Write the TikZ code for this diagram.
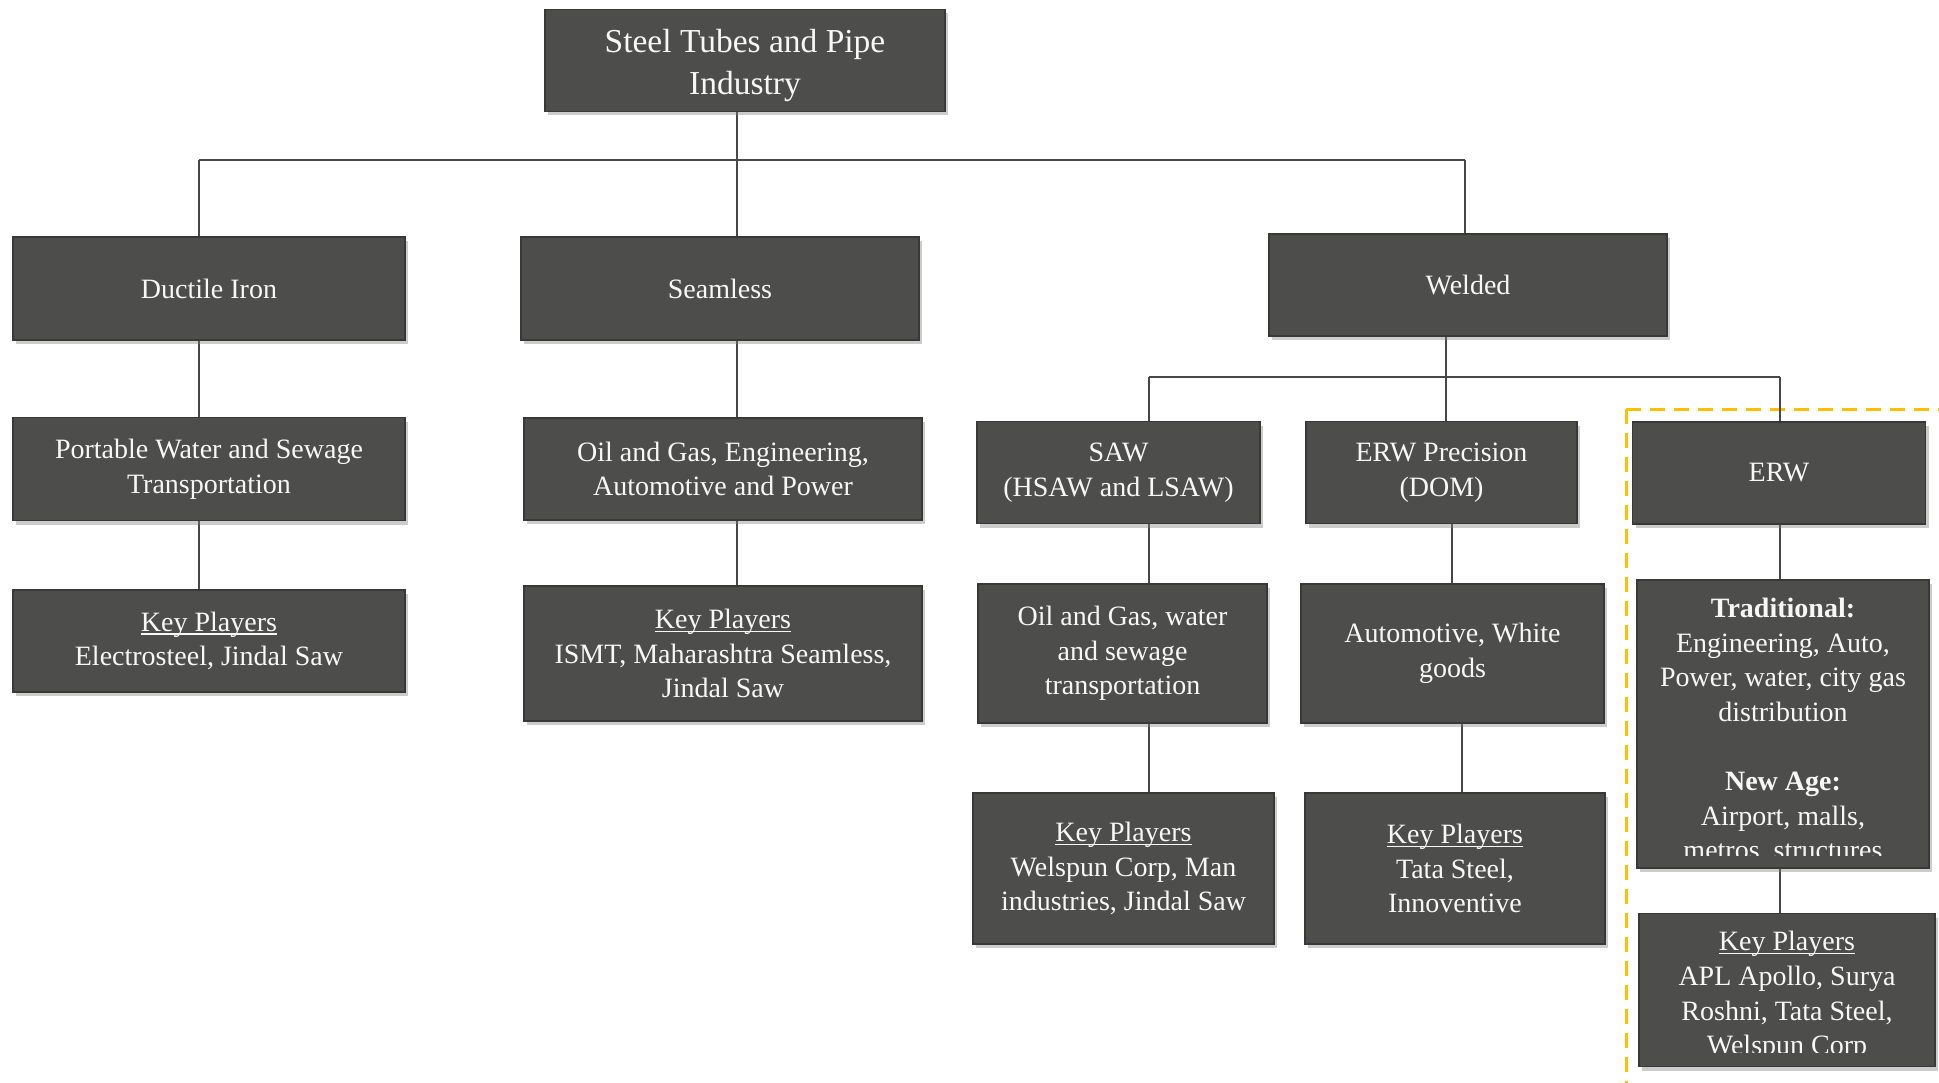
\documentclass[tikz,border=0pt]{standalone}
\usepackage{fontspec}
\setmainfont{Liberation Serif}
\usetikzlibrary{shadows}
\pgfdeclarelayer{bg}
\pgfsetlayers{bg,main}
\definecolor{boxfill}{HTML}{4D4D4B}
\definecolor{boxline}{HTML}{383838}
\definecolor{linec}{HTML}{474747}
\definecolor{orng}{HTML}{FFC000}
\definecolor{txtc}{HTML}{F7F7F7}
\newcommand{\fsn}{\fontsize{28}{34.6}\selectfont}
\newcommand{\fsr}{\fontsize{33.5}{42}\selectfont}
\newcommand{\myul}[1]{\setbox0\hbox{#1}\rlap{\rule[-3.5pt]{\wd0}{1.3pt}}\box0}
\begin{document}
\begin{tikzpicture}[x=1pt,y=-1pt,
  box/.style={draw=boxline, line width=1.6pt, fill=boxfill, text=txtc, align=center,
    inner sep=0pt, font=\fsn,
    drop shadow={shadow xshift=3pt, shadow yshift=-4pt, opacity=0.4}},
  boxtext/.style={text=txtc, align=center, inner sep=0pt, font=\fsn},
  conn/.style={draw=linec, line width=1.5pt},
  frame/.style={draw=orng, line width=3pt, dash pattern=on 15pt off 9pt}]
\useasboundingbox (0,0) rectangle (1939,1083);

% level 0
\node[box, minimum width=400pt, minimum height=102pt] (root) at (745,60.5) {};
\node[boxtext, font=\fsr] (roottext) at ([yshift=-5pt]root.center) {Steel Tubes and Pipe\\Industry};

% level 1
\node[box, minimum width=392pt, minimum height=103pt] (duct) at (209,288.5) {Ductile Iron};
\node[box, minimum width=398pt, minimum height=103pt] (seam) at (720,288.5) {Seamless};
\node[box, minimum width=398pt, minimum height=102pt] (weld) at (1468,285) {Welded};

% level 2
\node[box, minimum width=392pt, minimum height=103pt] (port) at (209,469) {Portable Water and Sewage\\Transportation};
\node[box, minimum width=398pt, minimum height=102pt] (oileng) at (723,469) {Oil and Gas, Engineering,\\Automotive and Power};
\node[box, minimum width=283pt, minimum height=102pt] (saw) at (1118.5,472.5) {SAW\\(HSAW and LSAW)};
\node[box, minimum width=271pt, minimum height=102pt] (erwp) at (1441.5,472.5) {ERW Precision\\(DOM)};
\node[box, minimum width=293pt, minimum height=102pt] (erw) at (1779,473) {ERW};

% level 3
\node[box, minimum width=392pt, minimum height=102pt] (kpd) at (209,641) {\myul{Key Players}\\Electrosteel, Jindal Saw};
\node[box, minimum width=398pt, minimum height=135pt] (kps) at (723,653.5) {\myul{Key Players}\\ISMT, Maharashtra Seamless,\\Jindal Saw};
\node[box, minimum width=289pt, minimum height=139pt] (oilw) at (1122.5,653.5) {Oil and Gas, water\\and sewage\\transportation};
\node[box, minimum width=303pt, minimum height=139pt] (auto) at (1452.5,653.5) {Automotive, White\\goods};
\node[box, minimum width=292pt, minimum height=288pt] (trad) at (1783,724) {};
\begin{scope}
  \clip (trad.north west) rectangle ([yshift=13pt]trad.south east);
  \node[boxtext] (tradtext) at (1783,731) {\textbf{Traditional:}\\Engineering, Auto,\\Power, water, city gas\\distribution\\~\\\textbf{New Age:}\\Airport, malls,\\metros, structures};
\end{scope}

% level 4
\node[box, minimum width=301pt, minimum height=151pt] (kpsaw) at (1123.5,868.5) {\myul{Key Players}\\Welspun Corp, Man\\industries, Jindal Saw};
\node[box, minimum width=300pt, minimum height=151pt] (kperwp) at (1455,868.5) {\myul{Key Players}\\Tata Steel,\\Innoventive};
\node[box, minimum width=296pt, minimum height=153pt] (kperw) at (1787,990) {};
\begin{scope}
  \clip (kperw.north west) rectangle ([yshift=15pt]kperw.south east);
  \node[boxtext] (kperwtext) at (1787,996) {\myul{Key Players}\\APL Apollo, Surya\\Roshni, Tata Steel,\\Welspun Corp};
\end{scope}

% bus and column coordinates
\coordinate (b1L) at (199,160);
\coordinate (b1M) at (737,160);
\coordinate (b1R) at (1465,160);
\coordinate (b2L) at (1149,377);
\coordinate (b2M) at (1446,377);
\coordinate (b2R) at (1780,377);
\coordinate (xA) at (1452,0);
\coordinate (xB) at (1462,0);

\begin{pgfonlayer}{bg}
  \draw[frame] (1626,409) -- (1950,409);
  \draw[frame] (1626,409) -- (1626,1095);

  \draw[conn] (root.south -| b1M) -- (b1M);
  \draw[conn] (b1L) -- (b1R);
  \draw[conn] (b1L) -- (duct.north -| b1L);
  \draw[conn] (b1M) -- (seam.north -| b1M);
  \draw[conn] (b1R) -- (weld.north -| b1R);

  \draw[conn] (duct.south -| b1L) -- (port.north -| b1L);
  \draw[conn] (port.south -| b1L) -- (kpd.north -| b1L);
  \draw[conn] (seam.south -| b1M) -- (oileng.north -| b1M);
  \draw[conn] (oileng.south -| b1M) -- (kps.north -| b1M);

  \draw[conn] (weld.south -| b2M) -- (b2M);
  \draw[conn] (b2L) -- (b2R);
  \draw[conn] (b2L) -- (saw.north -| b2L);
  \draw[conn] (b2M) -- (erwp.north -| b2M);
  \draw[conn] (b2R) -- (erw.north -| b2R);

  \draw[conn] (saw.south -| b2L) -- (oilw.north -| b2L);
  \draw[conn] (oilw.south -| b2L) -- (kpsaw.north -| b2L);
  \draw[conn] (erwp.south -| xA) -- (auto.north -| xA);
  \draw[conn] (auto.south -| xB) -- (kperwp.north -| xB);
  \draw[conn] (erw.south -| b2R) -- (trad.north -| b2R);
  \draw[conn] (trad.south -| b2R) -- (kperw.north -| b2R);
\end{pgfonlayer}
\end{tikzpicture}
\end{document}
